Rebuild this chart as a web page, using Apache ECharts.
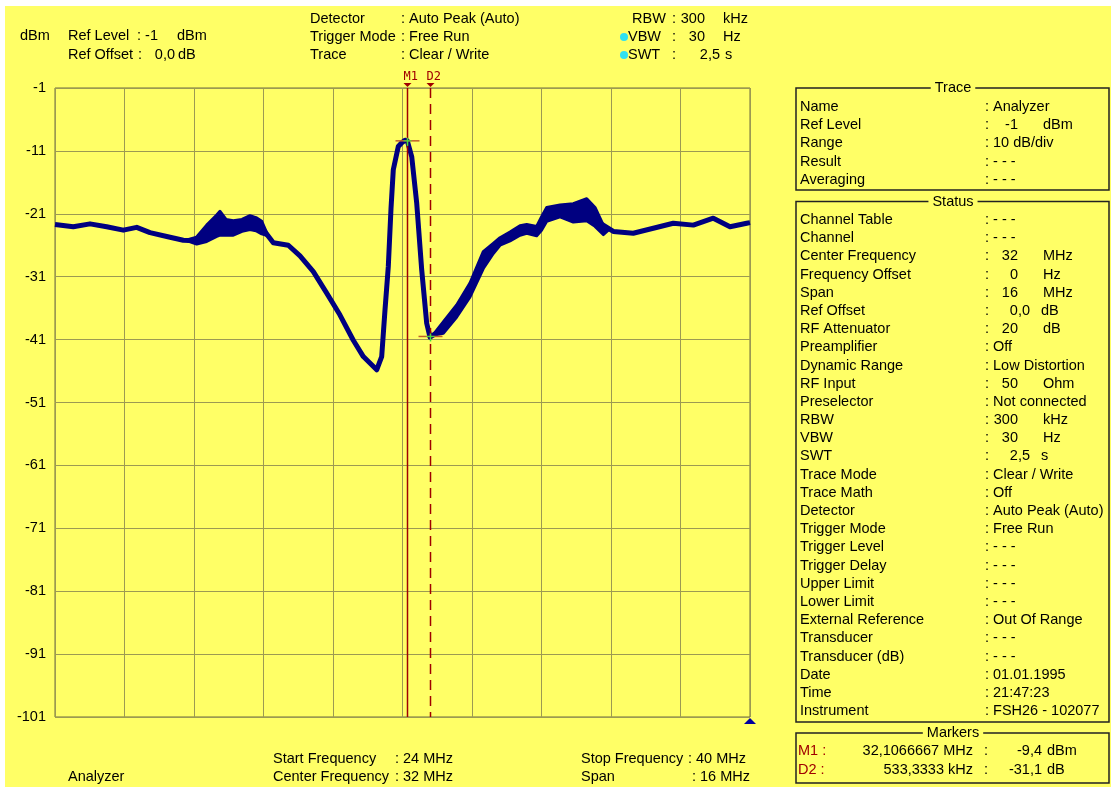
<!DOCTYPE html>
<html><head><meta charset="utf-8">
<script src="https://cdn.jsdelivr.net/npm/echarts@6/dist/echarts.min.js"></script>
<style>html,body{margin:0;padding:0;background:#fff;}#c{width:1111px;height:787px;}</style>
</head><body><div id="c"></div>
<script>
// ---------- DATA ----------
const startFreqMHz = 24;
const stopFreqMHz = 40;
const refLevelDbm = -1;
const yTickStepDb = 10;

const traceFreqMHz = [24.0, 24.039, 24.421, 24.806, 25.19, 25.572, 25.881, 26.187, 26.572, 26.954, 27.262, 27.492, 27.799,
  28.105, 28.489, 28.759, 29.026, 29.371, 29.64, 29.947, 30.255, 30.561, 30.867, 31.098, 31.406, 31.521, 31.597,
  31.673, 31.735, 31.788, 31.903, 31.982, 32.058, 32.111, 32.212, 32.327, 32.442, 32.557, 32.633, 32.771, 32.939,
  33.248, 33.554, 33.86, 34.09, 34.245, 34.475, 34.705, 34.859, 35.089, 35.32, 35.626, 35.932, 36.241, 36.363,
  36.547, 36.853, 37.313, 37.774, 38.234, 38.695, 39.155, 39.54, 39.924, 40.0];
const traceLevelDbm = [-22.7, -22.8, -23.05, -22.6, -23.05, -23.6, -23.15, -24.0, -24.6, -25.2, -25.3, -24.1, -22.8,
  -23.3, -22.4, -23.2, -25.6, -26.0, -27.7, -30.2, -33.6, -37.1, -41.1, -43.7, -45.8, -43.7, -36.3,
  -29.4, -20.2, -14.0, -10.3, -9.7, -9.3, -9.4, -11.9, -19.3, -29.9, -38.4, -40.6, -40.0, -38.95,
  -36.3, -33.1, -28.3, -26.2, -25.4, -24.6, -23.6, -23.3, -23.8, -21.2, -20.4, -20.7, -20.1, -20.9,
  -22.5, -23.8, -24.1, -23.3, -22.5, -22.8, -21.7, -23.05, -22.5, -22.4];

// noise envelopes (where the trace gets visibly wider)
const noiseAFreqMHz = [27.016, 27.262, 27.492, 27.723, 27.799, 27.937, 28.105, 28.305, 28.489, 28.627, 28.759, 28.904];
const noiseAHighDbm = [-25.2, -24.7, -22.8, -21.2, -20.6, -21.9, -22.1, -21.9, -21.3, -21.6, -22.2, -24.5];
const noiseALowDbm  = [-25.2, -25.8, -25.4, -24.6, -24.4, -24.4, -24.4, -23.8, -23.5, -23.7, -24.2, -24.5];
const noiseBFreqMHz = [32.7, 32.939, 33.248, 33.554, 33.86, 34.09, 34.245, 34.475, 34.705, 34.859, 35.089, 35.2, 35.32, 35.626, 35.932, 36.241, 36.432, 36.622, 36.75];
const noiseBHighDbm = [-40.3, -38.2, -35.5, -32.0, -27.0, -25.7, -24.8, -23.9, -22.9, -22.7, -23.0, -21.5, -20.0, -19.6, -19.4, -18.6, -20.0, -22.8, -23.5];
const noiseBLowDbm  = [-40.3, -40.0, -37.4, -34.2, -29.7, -27.3, -26.0, -25.3, -24.4, -24.1, -24.5, -23.6, -22.2, -21.5, -22.3, -22.1, -23.0, -24.3, -23.5];

const markerNames = ['M1', 'D2'];
const markerFreqMHz = [32.1066667, 32.1066667 + 0.5333333];
const markerLevelDbm = [-9.4, -9.4 - 31.1];

const headerLeft = ['dBm', 'Ref Level', ':', '-1', 'dBm', 'Ref Offset', ':', '0,0', 'dB'];
const headerMidLabels = ['Detector', 'Trigger Mode', 'Trace'];
const headerMidValues = [': Auto Peak (Auto)', ': Free Run', ': Clear / Write'];
const headerRightLabels = ['RBW', 'VBW', 'SWT'];
const headerRightNums = ['300', '30', '2,5'];
const headerRightUnits = ['kHz', 'Hz', 's'];

const traceBoxLabels = ['Name', 'Ref Level', 'Range', 'Result', 'Averaging'];
const traceBoxValues = [['Analyzer'], ['-1', 'dBm'], ['10 dB/div'], ['- - -'], ['- - -']];
const statusLabels = ['Channel Table', 'Channel', 'Center Frequency', 'Frequency Offset', 'Span', 'Ref Offset',
  'RF Attenuator', 'Preamplifier', 'Dynamic Range', 'RF Input', 'Preselector', 'RBW', 'VBW', 'SWT', 'Trace Mode',
  'Trace Math', 'Detector', 'Trigger Mode', 'Trigger Level', 'Trigger Delay', 'Upper Limit', 'Lower Limit',
  'External Reference', 'Transducer', 'Transducer (dB)', 'Date', 'Time', 'Instrument'];
const statusValues = [['- - -'], ['- - -'], ['32', 'MHz'], ['0', 'Hz'], ['16', 'MHz'], ['0,0', 'dB'],
  ['20', 'dB'], ['Off'], ['Low Distortion'], ['50', 'Ohm'], ['Not connected'], ['300', 'kHz'], ['30', 'Hz'], ['2,5', 's'], ['Clear / Write'],
  ['Off'], ['Auto Peak (Auto)'], ['Free Run'], ['- - -'], ['- - -'], ['- - -'], ['- - -'],
  ['Out Of Range'], ['- - -'], ['- - -'], ['01.01.1995'], ['21:47:23'], ['FSH26 - 102077']];
const markerRowLabels = ['M1 :', 'D2 :'];
const markerRowPos = ['32,1066667 MHz', '533,3333 kHz'];
const markerRowNums = ['-9,4', '-31,1'];
const markerRowUnits = ['dBm', 'dB'];

const footerLabels = ['Start Frequency', 'Center Frequency', 'Stop Frequency', 'Span'];
const footerValues = [': 24 MHz', ': 32 MHz', ': 40 MHz', ': 16 MHz'];
const footerName = 'Analyzer';

// ---------- STYLE ----------
const BG = '#FFFF66';
const FONT = '"Liberation Sans", Arial, sans-serif';
const FS = 14.5;
const TRACE = '#000080';
const MARK = '#A00000';
const GRIDC = '#9C9A52';

const chart = echarts.init(document.getElementById('c'), null, {renderer: 'canvas'});
const spanMHz = stopFreqMHz - startFreqMHz;
const toXY = (f, db) => [f - startFreqMHz, db - refLevelDbm];
const bands = [
  {f: noiseAFreqMHz, hi: noiseAHighDbm, lo: noiseALowDbm},
  {f: noiseBFreqMHz, hi: noiseBHighDbm, lo: noiseBLowDbm}
];

chart.setOption({
  animation: false,
  backgroundColor: 'transparent',
  grid: {left: 55, top: 88, width: 695, height: 629, show: true, borderColor: '#6E6C3E', borderWidth: 1, backgroundColor: 'transparent'},
  xAxis: {type: 'value', min: 0, max: spanMHz, interval: spanMHz / 10,
    axisLabel: {show: false}, axisTick: {show: false}, axisLine: {show: false},
    splitLine: {show: true, lineStyle: {color: GRIDC, width: 1}}},
  yAxis: {type: 'value', min: -100, max: 0, interval: yTickStepDb,
    axisLabel: {formatter: v => String(Math.round(v + refLevelDbm)), color: '#000', fontSize: FS, fontFamily: FONT, margin: 9},
    axisTick: {show: false}, axisLine: {show: false},
    splitLine: {show: true, lineStyle: {color: GRIDC, width: 1}}},
  series: [
    {type: 'custom', z: 3, silent: true,
      data: bands.map((b) => [b.f[0] - startFreqMHz, b.hi[0] - refLevelDbm]),
      renderItem: (params, api) => {
        const b = bands[params.dataIndex];
        const pts = [];
        b.f.forEach((f, i) => pts.push(api.coord(toXY(f, b.hi[i]))));
        for (let i = b.f.length - 1; i >= 0; i--) pts.push(api.coord(toXY(b.f[i], b.lo[i])));
        return {type: 'polygon', shape: {points: pts}, style: {fill: TRACE, stroke: TRACE, lineWidth: 3, lineJoin: 'round'}};
      }},
    {type: 'line', z: 4, symbol: 'none', silent: true,
      data: traceFreqMHz.map((f, i) => toXY(f, traceLevelDbm[i])),
      lineStyle: {color: TRACE, width: 5, join: 'round'}}
  ]
});

// ---------- GRAPHICS ----------
const g = [];
function T(x, y, text, o = {}) {
  g.push({type: 'text', x, y, z: 100, silent: true, style: Object.assign({
    text, fill: '#000', font: (o.size || FS) + 'px ' + (o.family || FONT),
    align: o.align || 'left', verticalAlign: 'middle', textAlign: o.align || 'left', textVerticalAlign: 'middle'
  }, o.color ? {fill: o.color} : {}, o.bg ? {backgroundColor: o.bg, padding: [0, 4]} : {})});
}
function L(x1, y1, x2, y2, color, w, dash) {
  g.push({type: 'line', z: 90, silent: true, shape: {x1, y1, x2, y2},
    style: {stroke: color, lineWidth: w, lineDash: dash || null}});
}
// page background
g.push({type: 'rect', z: -10, silent: true, shape: {x: 5, y: 6, width: 1106, height: 781}, style: {fill: BG}});

// header
T(20, 36, headerLeft[0]);
T(68, 36, headerLeft[1]); T(137, 36, headerLeft[2]); T(158, 36, headerLeft[3], {align: 'right'}); T(177, 36, headerLeft[4]);
T(68, 55, headerLeft[5]); T(138, 55, headerLeft[6]); T(175, 55, headerLeft[7], {align: 'right'}); T(178, 55, headerLeft[8]);
headerMidLabels.forEach((s, i) => { T(310, 19 + i * 18, s); T(401, 19 + i * 18, headerMidValues[i]); });
headerRightLabels.forEach((s, i) => {
  const y = 19 + i * 18;
  T(i === 0 ? 632 : 628, y, s); T(672, y, ':');
  T(headerRightNums[i].includes(',') ? 720 : 705, y, headerRightNums[i], {align: 'right'});
  T(headerRightNums[i].includes(',') ? 725 : 723, y, headerRightUnits[i]);
  if (i > 0) g.push({type: 'circle', z: 100, silent: true, shape: {cx: 624, cy: y, r: 4}, style: {fill: '#30E0F0'}});
});

// footer
T(68, 777, footerName);
T(273, 759, footerLabels[0]); T(395, 759, footerValues[0]);
T(273, 777, footerLabels[1]); T(395, 777, footerValues[1]);
T(581, 759, footerLabels[2]); T(688, 759, footerValues[2]);
T(581, 777, footerLabels[3]); T(692, 777, footerValues[3]);

// right panel boxes
function box(y1, y2, title) {
  g.push({type: 'rect', z: 80, silent: true, shape: {x: 796, y: y1, width: 313, height: y2 - y1},
    style: {fill: 'none', stroke: '#222', lineWidth: 1.5}});
  T(953, y1, title, {align: 'center', bg: BG});
}
box(88, 190, 'Trace');
box(201.5, 722, 'Status');
box(733, 783, 'Markers');
function valueRow(y, label, val) {
  T(800, y, label);
  if (val.length === 1) { T(985, y, ': ' + val[0]); return; }
  T(985, y, ':');
  const dec = val[0].includes(',');
  T(dec ? 1030 : 1018, y, val[0], {align: 'right'});
  T(dec ? 1041 : 1043, y, val[1]);
}
traceBoxLabels.forEach((s, i) => valueRow(107 + i * 18.2, s, traceBoxValues[i]));
statusLabels.forEach((s, i) => valueRow(220 + i * 18.19, s, statusValues[i]));
markerRowLabels.forEach((s, i) => {
  const y = 751 + i * 18.5;
  T(798, y, s, {color: MARK});
  T(973, y, markerRowPos[i], {align: 'right'});
  T(984, y, ':');
  T(1042, y, markerRowNums[i], {align: 'right'});
  T(1047, y, markerRowUnits[i]);
});

// markers drawn through the chart's scales
const pTop = chart.convertToPixel({gridIndex: 0}, [0, 0]);
const pBot = chart.convertToPixel({gridIndex: 0}, [spanMHz, -100]);
markerNames.forEach((name, i) => {
  const p = chart.convertToPixel({gridIndex: 0}, toXY(markerFreqMHz[i], markerLevelDbm[i]));
  const x = Math.round(p[0]) + 0.5;
  L(x, pTop[1], x, pBot[1], MARK, 1.5, i === 0 ? null : [10, 6]);
  g.push({type: 'polygon', z: 95, silent: true, shape: {points: [[x - 4, pTop[1] - 5], [x + 4, pTop[1] - 5], [x, pTop[1] - 1]]}, style: {fill: MARK}});
  T(x - 4, pTop[1] - 11, name, {color: MARK, size: 12, family: '"DejaVu Sans Mono", monospace'});
  L(x - 12, p[1], x + 12, p[1], '#C0602A', 1.5);
  L(x, p[1] - 3, x, p[1] + 5, '#40E040', 1.5);
  L(x - 4, p[1], x + 4, p[1], '#40E040', 1);
});
// reference triangle at bottom right
g.push({type: 'polygon', z: 95, silent: true,
  shape: {points: [[pBot[0] - 6, pBot[1] + 7], [pBot[0] + 6, pBot[1] + 7], [pBot[0], pBot[1] + 1]]}, style: {fill: '#0000A0'}});

chart.setOption({graphic: {elements: g}});
</script></body></html>
